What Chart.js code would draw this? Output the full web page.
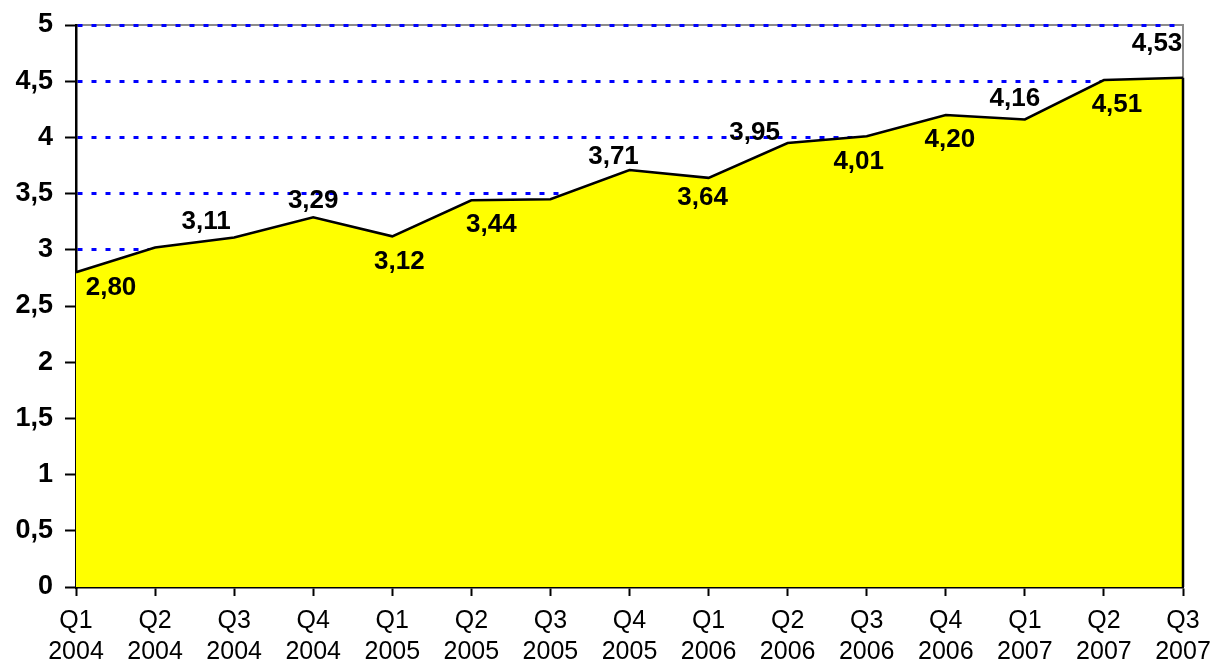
<!DOCTYPE html>
<html>
<head>
<meta charset="utf-8">
<script src="https://cdn.jsdelivr.net/npm/chart.js@4/dist/chart.umd.min.js"></script>
<style>
  html, body { margin: 0; padding: 0; background: #fff; }
  canvas { display: block; }
</style>
</head>
<body>
<canvas id="chart" width="1212" height="663"></canvas>
<script>
// Quarters and values
const quarters = ["Q1", "Q2", "Q3", "Q4", "Q1", "Q2", "Q3", "Q4", "Q1", "Q2", "Q3", "Q4", "Q1", "Q2", "Q3"];
const years = ["2004", "2004", "2004", "2004", "2005", "2005", "2005", "2005", "2006", "2006", "2006", "2006", "2007", "2007", "2007"];
const values = [2.80, 3.02, 3.11, 3.29, 3.12, 3.44, 3.45, 3.71, 3.64, 3.95, 4.01, 4.20, 4.16, 4.51, 4.53];
const yTicks = [0, 0.5, 1, 1.5, 2, 2.5, 3, 3.5, 4, 4.5, 5];

const labels = quarters.map((q, i) => [q, years[i]]);
const FONT = "'Liberation Sans', Arial, sans-serif";

const fmt = (v, d) => (d == null ? String(v) : v.toFixed(d)).replace(".", ",");

// label offsets from the point (null = no label shown)
const labelOffsets = [
  [35, 16], null, [-28, -16], [0, -16], [7, 26], [20, 24], null, [-16, -13],
  [-6, 20], [-33, -10], [-8, 26], [4, 25], [-10, -21], [13, 25], [-26, -34],
];

// gray frame on top/right, drawn under the grid
const framePlugin = {
  id: "frame",
  beforeDraw(chart) {
    const { ctx, chartArea: a } = chart;
    ctx.save();
    ctx.strokeStyle = "#8c8c8c";
    ctx.lineWidth = 2;
    ctx.beginPath();
    ctx.moveTo(a.left, a.top);
    ctx.lineTo(a.right, a.top);
    ctx.lineTo(a.right, a.bottom);
    ctx.stroke();
    ctx.restore();
  },
  afterDatasetsDraw(chart) {
    const { ctx, chartArea: a } = chart;
    const pts = chart.getDatasetMeta(0).data;
    const last = pts[pts.length - 1];
    ctx.save();
    ctx.strokeStyle = "#000";
    ctx.lineWidth = 2.5;
    ctx.beginPath();
    ctx.moveTo(last.x, last.y);
    ctx.lineTo(last.x, a.bottom);
    ctx.stroke();
    ctx.restore();
  },
};

const valueLabels = {
  id: "valueLabels",
  afterDatasetsDraw(chart) {
    const { ctx } = chart;
    const pts = chart.getDatasetMeta(0).data;
    ctx.save();
    ctx.font = "bold 26px " + FONT;
    ctx.fillStyle = "#000";
    ctx.textAlign = "center";
    ctx.textBaseline = "middle";
    pts.forEach((p, i) => {
      const off = labelOffsets[i];
      if (!off) return;
      ctx.fillText(fmt(values[i], 2), p.x + off[0], p.y + off[1]);
    });
    ctx.restore();
  },
};

new Chart(document.getElementById("chart"), {
  type: "line",
  data: {
    labels: labels,
    datasets: [
      {
        data: values,
        borderColor: "#000",
        borderWidth: 2.5,
        backgroundColor: "#ffff00",
        fill: "origin",
        tension: 0,
        pointRadius: 0,
      },
    ],
  },
  options: {
    responsive: false,
    animation: false,
    events: [],
    layout: { padding: { top: 25, right: 29, bottom: 0, left: 0 } },
    plugins: {
      legend: { display: false },
      tooltip: { enabled: false },
    },
    scales: {
      x: {
        offset: false,
        grid: {
          drawOnChartArea: false,
          drawTicks: true,
          tickLength: 9,
          tickColor: "#000",
          tickWidth: 2,
        },
        border: { color: "#000", width: 2.5 },
        ticks: {
          autoSkip: false,
          maxRotation: 0,
          padding: 9,
          color: "#000",
          font: { family: FONT, size: 25, lineHeight: 1.25 },
        },
        afterFit(scale) {
          scale.height = 76;
          scale.paddingLeft = 0;
          scale.paddingRight = 0;
        },
      },
      y: {
        min: 0,
        max: 5,
        afterBuildTicks(scale) { scale.ticks = yTicks.map((v) => ({ value: v })); },
        grid: {
          color: (c) => (c.tick && c.tick.value >= 3 ? "#0000ff" : "rgba(0,0,0,0)"),
          lineWidth: 3,
          drawTicks: true,
          tickLength: 11,
          tickColor: "#000",
          tickWidth: 2,
          tickBorderDash: [],
        },
        border: { color: "#000", width: 2.5, dash: [5, 9] },
        ticks: {
          padding: 12,
          color: "#000",
          font: { family: FONT, size: 27, weight: "bold" },
          callback: (v) => fmt(v),
        },
        afterFit(scale) {
          scale.width = 76;
          scale.paddingTop = 0;
          scale.paddingBottom = 0;
        },
      },
    },
  },
  plugins: [framePlugin, valueLabels],
});
</script>
</body>
</html>
